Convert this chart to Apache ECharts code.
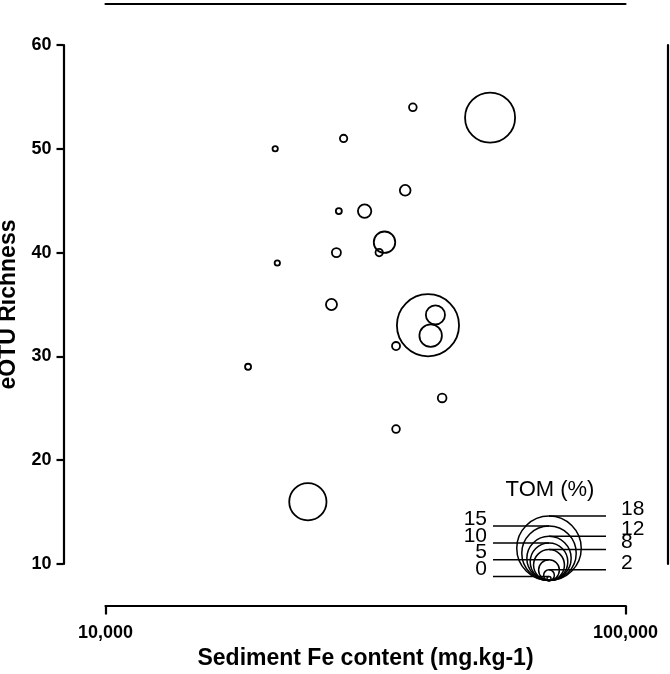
<!DOCTYPE html>
<html>
<head>
<meta charset="utf-8">
<title>eOTU richness vs sediment Fe</title>
<script src="https://cdn.jsdelivr.net/npm/echarts@6/dist/echarts.min.js"></script>
<style>
  html, body { margin: 0; padding: 0; background: #fff; }
  #chart { width: 670px; height: 674px; }
</style>
</head>
<body>
<div id="chart"></div>
<script>
// values
const feContent = [39000, 54900, 28700, 21200, 37700, 28100, 31500, 34400, 27800, 33600,
  21400, 27200, 43100, 41700, 42200, 36200, 18800, 44400, 36200, 24500];
const richness = [54, 53, 51, 50, 46, 44, 44, 41, 40, 40, 39, 35, 34, 33, 32, 31, 29, 26, 23, 16];
const tomPct = [1.1, 13.7, 1.0, 0.4, 2.0, 0.6, 2.8, 5.2, 1.5, 1.0, 0.4, 2.1, 4.5, 17.3, 5.5,
  1.2, 0.6, 1.4, 1.1, 9.9];
const tomLegend = [0, 2, 5, 8, 10, 12, 15, 18];
const xTickLabels = { 10000: "10,000", 100000: "100,000" };

const FONT = "'Liberation Sans', Arial, Helvetica, sans-serif";
const radius = (v) => 2 + 1.68 * v; // circle radius in px

const chart = echarts.init(document.getElementById("chart"), null, { renderer: "canvas" });

const points = feContent.map((x, i) => [x, richness[i], tomPct[i]]);

// bubble size legend (nested circles, bottom aligned)
const legendX = 549;
const legendBottom = 580.5;
const legendEls = [
  {
    type: "text",
    x: 550,
    y: 490,
    style: {
      text: "TOM (%)",
      font: "22px " + FONT,
      fill: "#000",
      align: "center",
      verticalAlign: "middle",
    },
  },
];
tomLegend.forEach((v, i) => {
  const r = radius(v);
  const lineY = legendBottom - 2 * r;
  const left = i % 2 === 0;
  legendEls.push({
    type: "circle",
    shape: { cx: legendX, cy: legendBottom - r, r: r },
    style: { fill: null, stroke: "#000", lineWidth: 1.5 },
  });
  legendEls.push({
    type: "line",
    shape: left
      ? { x1: 493, y1: lineY, x2: legendX, y2: lineY }
      : { x1: legendX, y1: lineY, x2: 606, y2: lineY },
    style: { stroke: "#000", lineWidth: 1.5 },
  });
  legendEls.push({
    type: "text",
    x: left ? 487 : 621,
    y: lineY - 7,
    style: {
      text: String(v),
      font: "21px " + FONT,
      fill: "#000",
      align: left ? "right" : "left",
      verticalAlign: "middle",
    },
  });
});

const plainAxis = {
  axisLine: { show: true, lineStyle: { color: "#000", width: 2.2 } },
  axisTick: { show: false },
  axisLabel: { show: false },
  splitLine: { show: false },
};

chart.setOption({
  animation: false,
  backgroundColor: "#fff",
  textStyle: { fontFamily: FONT },
  grid: {
    left: 105.5,
    right: 44.5,
    top: 45,
    bottom: 110,
    containLabel: false,
    outerBoundsMode: "none",
  },
  xAxis: [
    {
      type: "log",
      logBase: 10,
      min: 10000,
      max: 100000,
      position: "bottom",
      offset: 41.5,
      name: "Sediment Fe content (mg.kg-1)",
      nameLocation: "middle",
      nameGap: 36,
      nameTextStyle: { color: "#000", fontSize: 23, fontWeight: "bold", fontFamily: FONT },
      axisLine: { show: true, lineStyle: { color: "#000", width: 2.2 } },
      axisTick: { show: true, inside: false, length: 9, lineStyle: { color: "#000", width: 2.2 } },
      axisLabel: {
        margin: 19,
        color: "#000",
        fontSize: 18,
        fontWeight: "bold",
        fontFamily: FONT,
        formatter: (v) => xTickLabels[Math.round(v)] || "",
      },
      splitLine: { show: false },
    },
    Object.assign({ type: "log", logBase: 10, min: 10000, max: 100000, position: "top", offset: 41.5 }, plainAxis),
  ],
  yAxis: [
    {
      type: "value",
      min: 10,
      max: 60,
      interval: 10,
      position: "left",
      offset: 42,
      name: "eOTU Richness",
      nameLocation: "middle",
      nameGap: 41,
      nameRotate: 90,
      nameTextStyle: { color: "#000", fontSize: 23, fontWeight: "bold", fontFamily: FONT },
      axisLine: { show: true, lineStyle: { color: "#000", width: 2.2 } },
      axisTick: { show: true, inside: false, length: 7, lineStyle: { color: "#000", width: 2.2 } },
      axisLabel: { margin: 12, color: "#000", fontSize: 18, fontWeight: "bold", fontFamily: FONT },
      splitLine: { show: false },
    },
    Object.assign({ type: "value", min: 10, max: 60, interval: 10, position: "right", offset: 42 }, plainAxis),
  ],
  series: [
    {
      type: "scatter",
      data: points,
      symbol: "circle",
      symbolSize: (val) => 2 * radius(val[2]),
      itemStyle: { color: "rgba(0,0,0,0)", borderColor: "#000", borderWidth: 1.8, opacity: 1 },
      emphasis: { disabled: true },
      silent: true,
      clip: false,
    },
  ],
  graphic: legendEls,
});
</script>
</body>
</html>
